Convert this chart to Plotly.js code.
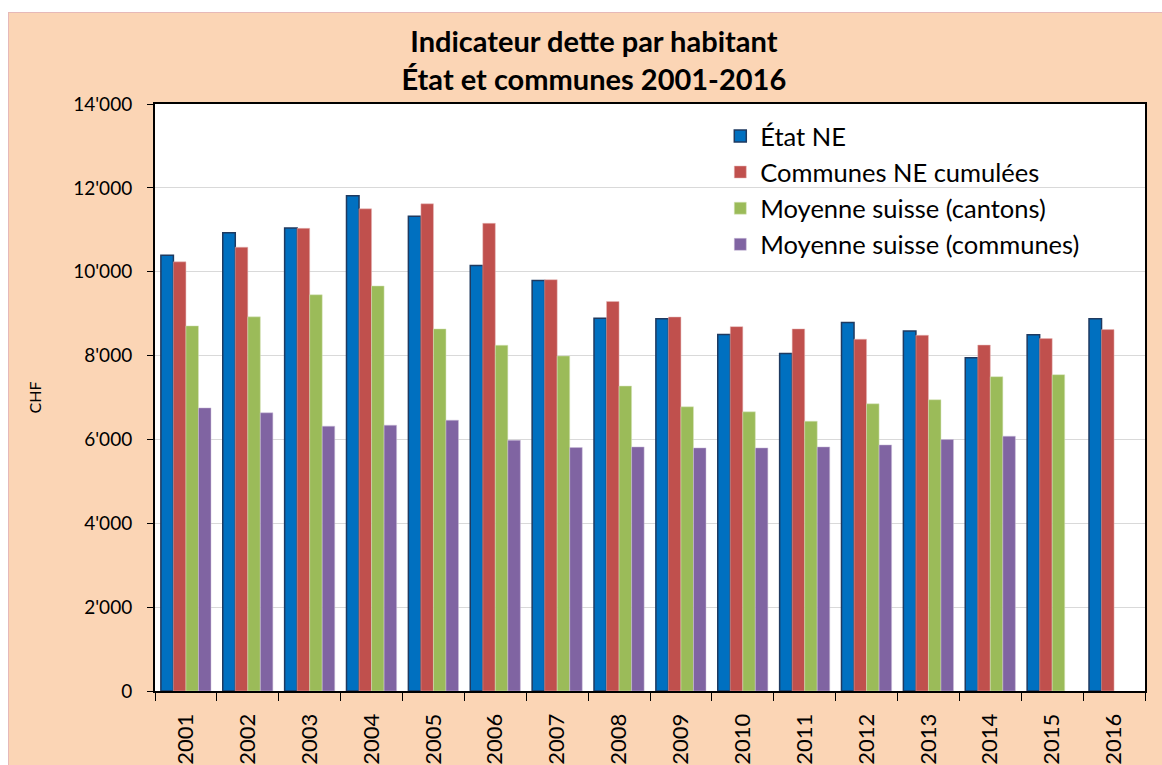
<!DOCTYPE html>
<html>
<head>
<meta charset="utf-8">
<script src="https://cdn.plot.ly/plotly-3.0.1.min.js"></script>
<style>
  html, body { margin: 0; padding: 0; background: #ffffff; width: 1162px; height: 765px; overflow: hidden; }
  #chart { position: absolute; left: 8px; top: 12px; width: 1154px; height: 753px;
           border-left: 1px solid #E6B9B8; border-top: 1px solid #E6B9B8; box-sizing: border-box; }
</style>
</head>
<body>
<div id="chart"></div>
<script>
// ---- data ----
const years = ["2001","2002","2003","2004","2005","2006","2007","2008","2009","2010","2011","2012","2013","2014","2015","2016"];
const etatNE = [10390, 10930, 11040, 11810, 11320, 10150, 9790, 8890, 8880, 8500, 8050, 8790, 8585, 7950, 8495, 8880];
const communesNE = [10235, 10585, 11035, 11500, 11620, 11155, 9810, 9290, 8920, 8690, 8636, 8390, 8485, 8250, 8405, 8620];
const moyCantons = [8708, 8923, 9450, 9660, 8636, 8247, 7990, 7273, 6778, 6658, 6435, 6850, 6946, 7496, 7544, null];
const moyCommunes = [6752, 6635, 6316, 6340, 6459, 5981, 5806, 5821, 5798, 5798, 5821, 5869, 5997, 6077, null, null];
const seriesNames = ["État NE", "Communes NE cumulées", "Moyenne suisse (cantons)", "Moyenne suisse (communes)"];

const FONT = "Lato, 'Open Sans', sans-serif";
const colors = ["#0070C0", "#C0504D", "#9BBB59", "#8064A2"];
const lines = [{color: "#1F3A60", width: 1.5}, {color: "#E6B9B8", width: 0.5}, {color: "#D7E4BD", width: 0.5}, {color: "#CCC1DA", width: 0.5}];
const allVals = [etatNE, communesNE, moyCantons, moyCommunes];

const traces = allVals.map((vals, i) => ({
  type: "bar",
  name: seriesNames[i],
  x: years,
  y: vals,
  legendgroup: "g" + i,
  marker: { color: colors[i], line: lines[i] },
  hoverinfo: "x+y+name"
}));

const layout = {
  width: 1154,
  height: 753,
  paper_bgcolor: "#FBD5B5",
  plot_bgcolor: "#FFFFFF",
  separators: ".'",
  margin: { l: 146, r: 18, t: 91, b: 75, pad: 0 },
  font: { family: FONT, color: "#000000" },
  title: {
    text: "<b>Indicateur dette par habitant</b><br><b>État et communes 2001-2016</b>",
    font: { family: FONT, size: 29, color: "#000000" },
    xref: "paper", x: 0.4433, xanchor: "center",
    yref: "container", y: 0.948, yanchor: "middle"
  },
  barmode: "group",
  bargap: 0.19,
  bargroupgap: 0,
  xaxis: {
    type: "category",
    tickson: "boundaries",
    ticks: "outside",
    ticklen: 8,
    tickwidth: 1,
    tickcolor: "#000000",
    tickangle: -90,
    tickfont: { family: FONT, size: 22, color: "#000000" },
    showline: true, linecolor: "#000000", linewidth: 2, mirror: true,
    showgrid: false, zeroline: false,
    ticklabelstandoff: 12
  },
  yaxis: {
    range: [0, 14000],
    dtick: 2000,
    tick0: 0,
    tickformat: ",d",
    ticks: "outside",
    ticklen: 6,
    tickwidth: 1,
    tickcolor: "#000000",
    tickfont: { family: FONT, size: 19, color: "#000000" },
    showline: true, linecolor: "#000000", linewidth: 2, mirror: true,
    showgrid: true, gridcolor: "#D9D9D9", gridwidth: 1,
    zeroline: false,
    ticklabelstandoff: 11,
    title: { text: "CHF", font: { family: FONT, size: 16, color: "#000000" }, standoff: 28 }
  },
  legend: {
    x: 0.571, y: 0.985, xanchor: "left", yanchor: "top",
    bgcolor: "rgba(0,0,0,0)",
    borderwidth: 0,
    font: { family: FONT, size: 25.5, color: "#000000" },
    tracegroupgap: 0,
    traceorder: "normal"
  },
  showlegend: true
};

Plotly.newPlot("chart", traces, layout, { displayModeBar: false, staticPlot: true });
</script>
</body>
</html>
